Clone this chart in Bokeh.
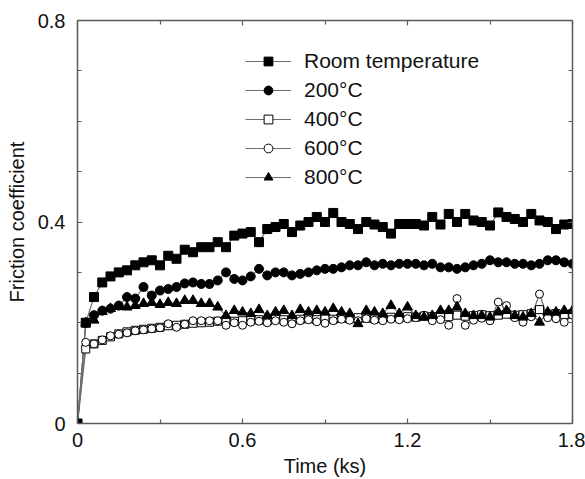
from bokeh.plotting import figure
from bokeh.models import LinearAxis, FixedTicker, Range1d, Legend, LegendItem
from bokeh.embed import file_html
from bokeh.resources import INLINE

# ---- data ----
time_ks = [0.00, 0.03, 0.06, 0.09, 0.12, 0.15, 0.18, 0.21, 0.24, 0.27,
           0.30, 0.33, 0.36, 0.39, 0.42, 0.45, 0.48, 0.51, 0.54, 0.57,
           0.60, 0.63, 0.66, 0.69, 0.72, 0.75, 0.78, 0.81, 0.84, 0.87,
           0.90, 0.93, 0.96, 0.99, 1.02, 1.05, 1.08, 1.11, 1.14, 1.17,
           1.20, 1.23, 1.26, 1.29, 1.32, 1.35, 1.38, 1.41, 1.44, 1.47,
           1.50, 1.53, 1.56, 1.59, 1.62, 1.65, 1.68, 1.71, 1.74, 1.77,
           1.80]

room_temp = [0.000, 0.200, 0.251, 0.280, 0.292, 0.300, 0.304, 0.314, 0.320, 0.324,
             0.314, 0.333, 0.327, 0.345, 0.340, 0.350, 0.350, 0.360, 0.350, 0.373,
             0.377, 0.380, 0.360, 0.386, 0.390, 0.396, 0.380, 0.393, 0.400, 0.410,
             0.400, 0.418, 0.400, 0.396, 0.386, 0.400, 0.395, 0.390, 0.377, 0.396,
             0.396, 0.396, 0.393, 0.410, 0.395, 0.416, 0.400, 0.416, 0.403, 0.400,
             0.393, 0.419, 0.410, 0.406, 0.400, 0.416, 0.403, 0.400, 0.386, 0.395,
             0.396]

t200 = [0.000, 0.200, 0.215, 0.224, 0.228, 0.234, 0.251, 0.248, 0.271, 0.254,
        0.264, 0.267, 0.271, 0.278, 0.280, 0.277, 0.277, 0.284, 0.300, 0.287,
        0.284, 0.292, 0.307, 0.294, 0.300, 0.300, 0.294, 0.297, 0.300, 0.304,
        0.307, 0.307, 0.310, 0.314, 0.314, 0.320, 0.314, 0.317, 0.314, 0.317,
        0.317, 0.317, 0.314, 0.317, 0.310, 0.310, 0.307, 0.310, 0.314, 0.317,
        0.324, 0.320, 0.320, 0.317, 0.317, 0.314, 0.317, 0.324, 0.324, 0.320,
        0.317]

t400 = [0.000, 0.148, 0.158, 0.165, 0.172, 0.178, 0.182, 0.185, 0.187, 0.189,
        0.191, 0.194, 0.195, 0.197, 0.199, 0.200, 0.201, 0.203, 0.205, 0.203,
        0.204, 0.205, 0.206, 0.204, 0.207, 0.206, 0.205, 0.207, 0.208, 0.206,
        0.208, 0.207, 0.209, 0.208, 0.210, 0.209, 0.208, 0.210, 0.211, 0.210,
        0.212, 0.211, 0.213, 0.212, 0.214, 0.212, 0.215, 0.213, 0.214, 0.216,
        0.214, 0.215, 0.217, 0.215, 0.216, 0.218, 0.226, 0.217, 0.218, 0.216,
        0.218]

t600 = [0.000, 0.161, 0.158, 0.166, 0.174, 0.177, 0.180, 0.184, 0.186, 0.188,
        0.190, 0.198, 0.191, 0.197, 0.204, 0.204, 0.204, 0.204, 0.195, 0.200,
        0.195, 0.201, 0.203, 0.200, 0.204, 0.201, 0.198, 0.204, 0.206, 0.202,
        0.199, 0.204, 0.207, 0.205, 0.204, 0.208, 0.205, 0.204, 0.207, 0.206,
        0.208, 0.210, 0.215, 0.204, 0.206, 0.195, 0.248, 0.195, 0.205, 0.209,
        0.204, 0.241, 0.234, 0.210, 0.201, 0.212, 0.257, 0.210, 0.208, 0.201,
        0.215]

t800 = [0.000, 0.200, 0.205, 0.222, 0.228, 0.232, 0.231, 0.234, 0.238, 0.240,
        0.236, 0.240, 0.238, 0.244, 0.244, 0.238, 0.238, 0.231, 0.214, 0.224,
        0.221, 0.218, 0.226, 0.214, 0.221, 0.224, 0.214, 0.226, 0.221, 0.224,
        0.221, 0.228, 0.221, 0.218, 0.198, 0.224, 0.221, 0.218, 0.234, 0.218,
        0.231, 0.214, 0.211, 0.214, 0.224, 0.224, 0.231, 0.218, 0.214, 0.214,
        0.211, 0.221, 0.224, 0.214, 0.211, 0.218, 0.201, 0.221, 0.221, 0.224,
        0.224]

labels = ["Room temperature", "200\u00b0C", "400\u00b0C", "600\u00b0C", "800\u00b0C"]
x_ticks = [0, 0.6, 1.2, 1.8]
x_minor = [0.3, 0.9, 1.5]
y_ticks = [0, 0.4, 0.8]
y_minor = [0.1, 0.2, 0.3, 0.5, 0.6, 0.7]

for s in (room_temp, t200, t400, t600, t800):
    assert len(s) == len(time_ks)

FONT = "Liberation Sans"
AX = "#5a5a5a"

p = figure(width=585, height=479, x_range=Range1d(0, 1.8), y_range=Range1d(0, 0.8),
           output_backend="svg", toolbar_location=None,
           min_border_left=77, min_border_right=13, min_border_top=20, min_border_bottom=56,
           background_fill_color="white", border_fill_color="white")
p.grid.visible = False
p.outline_line_color = None


def style_axis(ax, ticks, minor, show_labels=True):
    ax.ticker = FixedTicker(ticks=ticks, minor_ticks=minor)
    ax.major_tick_in = 5
    ax.major_tick_out = 0
    ax.minor_tick_in = 4
    ax.minor_tick_out = 0
    ax.axis_line_color = AX
    ax.axis_line_width = 1.5
    ax.major_tick_line_color = AX
    ax.minor_tick_line_color = AX
    ax.major_tick_line_width = 1.2
    ax.minor_tick_line_width = 1.2
    if show_labels:
        ax.major_label_text_font = FONT
        ax.major_label_text_font_size = "20px"
        ax.major_label_text_color = "#111111"
        ax.axis_label_text_font = FONT
        ax.axis_label_text_font_size = "20px"
        ax.axis_label_text_font_style = "normal"
        ax.axis_label_text_color = "#111111"
    else:
        ax.major_label_text_font_size = "1px"
        ax.major_label_text_color = None
        ax.major_label_standoff = 0


xa = p.xaxis[0]
ya = p.yaxis[0]
style_axis(xa, x_ticks, x_minor)
style_axis(ya, y_ticks, y_minor)
xa.axis_label = "Time (ks)"
ya.axis_label = "Friction coefficient"
xa.major_label_standoff = 9
xa.axis_label_standoff = 5
ya.major_label_standoff = 12
ya.axis_label_standoff = 7
xa.major_label_overrides = {0: "0", 0.6: "0.6", 1.2: "1.2", 1.8: "1.8"}
ya.major_label_overrides = {0: "0", 0.4: "0.4", 0.8: "0.8"}

top = LinearAxis()
style_axis(top, x_ticks, x_minor, show_labels=False)
p.add_layout(top, "above")
right = LinearAxis()
style_axis(right, y_ticks, y_minor, show_labels=False)
p.add_layout(right, "right")

LINE = "#6e6e6e"
series = [
    (room_temp, "square", "black", 9),
    (t200, "circle", "black", 9),
    (t400, "square", "white", 8),
    (t600, "circle", "white", 8),
    (t800, "triangle", "black", 10),
]

lines = []
for ys, _, _, _ in series:
    lines.append(p.line(time_ks, ys, line_color=LINE, line_width=1.2))

marks = [None] * 5
for i in [2, 3, 4, 1, 0]:
    ys, m, fill, sz = series[i]
    marks[i] = p.scatter(time_ks, ys, marker=m, size=sz, fill_color=fill,
                         line_color="black", line_width=1)

items = [LegendItem(label=labels[i], renderers=[lines[i], marks[i]]) for i in range(5)]
legend = Legend(items=items, location=(168, 234), glyph_width=46, glyph_height=22,
                label_height=22, spacing=5, padding=0, margin=0, label_standoff=13,
                border_line_alpha=0, background_fill_alpha=0,
                label_text_font=FONT, label_text_font_size="21px",
                label_text_color="#111111")
p.add_layout(legend)

open("out.html", "w").write(file_html(p, INLINE))
